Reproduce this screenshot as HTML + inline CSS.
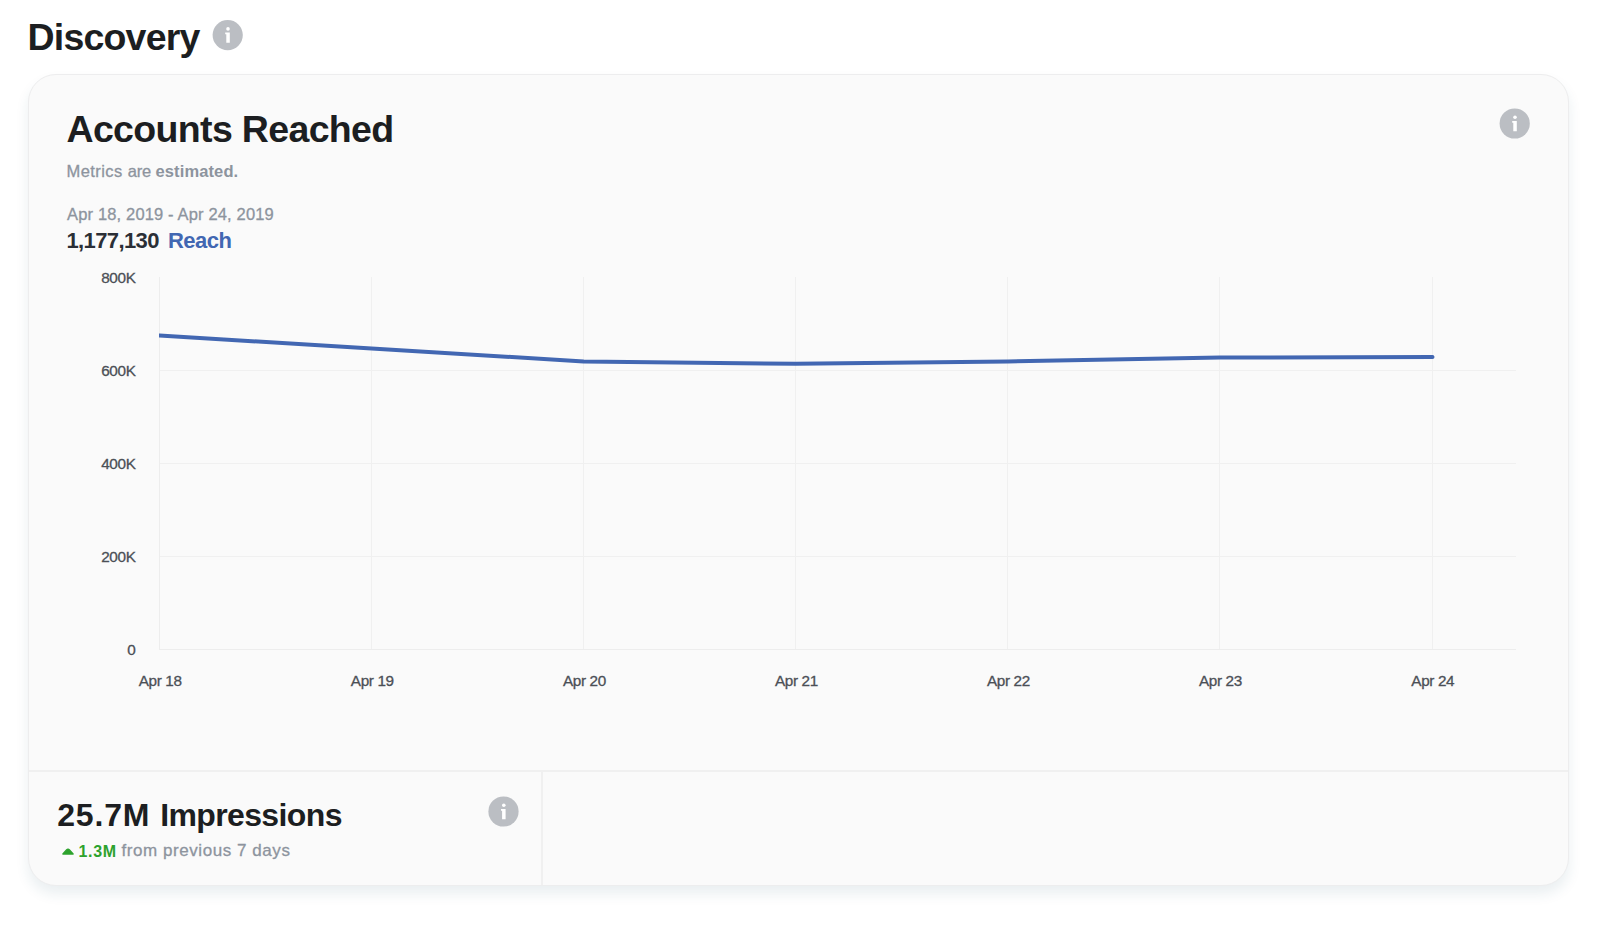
<!DOCTYPE html>
<html><head><meta charset="utf-8">
<style>
html,body{margin:0;padding:0;background:#fff;}
body{width:1600px;height:930px;position:relative;overflow:hidden;font-family:"Liberation Sans",sans-serif;color:#1c1e21;}
.abs{position:absolute;white-space:nowrap;line-height:1;}
#h1{left:27.5px;top:18.5px;font-size:37.5px;font-weight:bold;letter-spacing:-0.8px;color:#1c1e21;}
#card{position:absolute;left:28px;top:74px;width:1541px;height:812px;box-sizing:border-box;background:#fafafa;border:1px solid #ededee;border-radius:28px;box-shadow:0 8px 13px rgba(30,90,105,0.095);}
#title{left:66.5px;top:111px;font-size:37.5px;font-weight:bold;letter-spacing:-0.66px;}
#sub{left:66.5px;top:162.9px;font-size:16.5px;letter-spacing:0.1px;color:#8d949e;}
#sub b{color:#8d949e;-webkit-text-stroke:0;letter-spacing:0.12px;}
#sub,#date,#d2{-webkit-text-stroke:0.3px #8d949e;}
#date{left:67.1px;top:205.6px;font-size:16.5px;letter-spacing:0.15px;color:#8d949e;}
#reach{left:66.4px;top:230.3px;font-size:22px;font-weight:bold;letter-spacing:-0.6px;color:#2b2f36;}
#reach2{left:168px;top:230.3px;font-size:22px;font-weight:bold;letter-spacing:-0.55px;color:#4267b2;}
#hr{position:absolute;left:29px;top:770px;width:1539px;height:2px;background:#f0f0f0;}
#vr{position:absolute;left:541px;top:772px;width:2px;height:113px;background:#f0f0f0;}
#imp{left:57.2px;top:799.3px;font-size:32px;font-weight:bold;letter-spacing:-0.09px;}
#d1{left:78.6px;top:844px;font-size:16px;font-weight:bold;color:#2da22d;letter-spacing:0.6px;}
#d2{left:121.5px;top:842.3px;font-size:17px;color:#8d949e;letter-spacing:0.56px;}
svg{position:absolute;left:0;top:0;}
svg text{font-family:"Liberation Sans",sans-serif;font-size:15.3px;letter-spacing:-0.35px;fill:#4b4f56;stroke:#4b4f56;stroke-width:0.3px;}
</style></head><body>
<div id="h1" class="abs">Discovery</div>
<div id="card"></div>
<div id="title" class="abs">Accounts Reached</div>
<div id="sub" class="abs"><span style="letter-spacing:0.42px">Metrics </span><span style="letter-spacing:-0.15px">are </span><b>estimated.</b></div>
<div id="date" class="abs">Apr 18, 2019 - Apr 24, 2019</div>
<div id="reach" class="abs">1,177,130</div>
<div id="reach2" class="abs">Reach</div>
<div id="hr"></div><div id="vr"></div>
<div id="imp" class="abs"><span style="letter-spacing:0.85px">25.7M </span><span style="letter-spacing:-0.62px">Impressions</span></div>
<div id="d1" class="abs">1.3M</div>
<div id="d2" class="abs">from previous 7 days</div>
<svg width="1600" height="930" viewBox="0 0 1600 930">
 <defs>
  <g id="info">
   <circle cx="0" cy="0" r="15.1" fill="#bbbec3"/>
   <circle cx="0.3" cy="-6.2" r="1.8" fill="#fff"/>
   <path d="M-2.5 -2.6 H2.1 V7.7 H-1.4 V-0.8 H-2.5 Z" fill="#fff"/>
  </g>
 </defs>
 <use href="#info" x="227.7" y="35.1"/>
 <use href="#info" x="1514.7" y="123.5"/>
 <use href="#info" x="503.5" y="811.5"/>
 <!-- grid -->
 <g stroke="#f0f0f0" stroke-width="1" fill="none" shape-rendering="crispEdges">
  <path d="M159.5 370.5H1516M159.5 463.5H1516M159.5 556.5H1516"/>
  <path d="M371.5 277V650M583.5 277V650M795.5 277V650M1007.5 277V650M1219.5 277V650M1432.5 277V650"/>
 </g>
 <g stroke="#ededed" stroke-width="1" fill="none" shape-rendering="crispEdges">
  <path d="M159.5 277V650M159 649.5H1516"/>
 </g>
 <clipPath id="cl"><rect x="159" y="270" width="1300" height="390"/></clipPath>
 <polyline clip-path="url(#cl)" points="159.5,335.5 371.6,348.5 583.7,361.5 795.8,363.8 1007.9,361.5 1220,357.5 1432.5,357.1" fill="none" stroke="#4267b2" stroke-width="4" stroke-linejoin="round" stroke-linecap="round"/>
 <g text-anchor="end">
  <text x="135.5" y="282.5">800K</text>
  <text x="135.5" y="375.9">600K</text>
  <text x="135.5" y="468.9">400K</text>
  <text x="135.5" y="561.9">200K</text>
  <text x="135.5" y="655">0</text>
 </g>
 <g text-anchor="middle">
  <text x="160.2" y="686">Apr 18</text>
  <text x="372.3" y="686">Apr 19</text>
  <text x="584.4" y="686">Apr 20</text>
  <text x="796.4" y="686">Apr 21</text>
  <text x="1008.4" y="686">Apr 22</text>
  <text x="1220.4" y="686">Apr 23</text>
  <text x="1432.8" y="686">Apr 24</text>
 </g>
 <path d="M62.9 854 L66.5 849.9 Q68 848.3 69.5 849.9 L73.1 854 Z" fill="#2da22d" stroke="#2da22d" stroke-width="1.4" stroke-linejoin="round"/>
</svg>
</body></html>
